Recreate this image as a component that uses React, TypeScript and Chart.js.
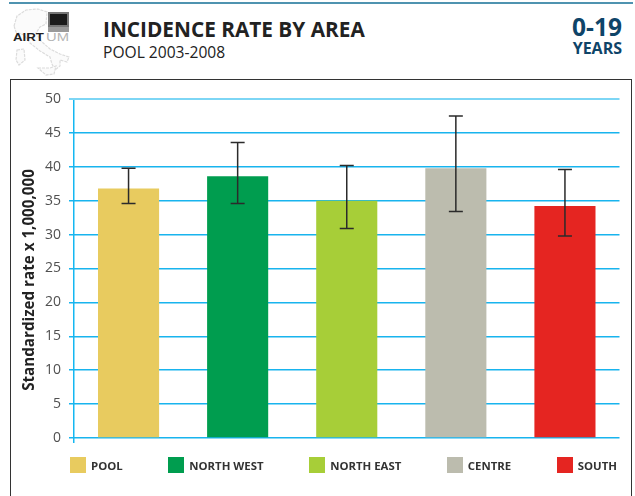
import React, { useEffect, useRef } from "react";
import { Chart, registerables } from "chart.js";

Chart.register(...registerables);

const categories = ["POOL", "NORTH WEST", "NORTH EAST", "CENTRE", "SOUTH"];
const rates = [36.8, 38.6, 35.0, 39.8, 34.2];
const lower = [34.6, 34.6, 30.9, 33.4, 29.8];
const upper = [39.8, 43.6, 40.2, 47.5, 39.6];
const colors = ["#e8cb5f", "#009d4f", "#a7ce38", "#bcbcae", "#e52521"];
const yAxisTitle = "Standardized rate x 1,000,000";
const FONT = '"Open Sans", "Noto Sans", sans-serif';

const errorBars = {
  id: "errorBars",
  afterDatasetsDraw(chart: any) {
    const { ctx, scales } = chart;
    const meta = chart.getDatasetMeta(0);
    ctx.save();
    ctx.strokeStyle = "#2b2b2b";
    ctx.lineWidth = 1.5;
    meta.data.forEach((bar: any, i: number) => {
      const x = bar.x;
      const yl = scales.y.getPixelForValue(lower[i]);
      const yu = scales.y.getPixelForValue(upper[i]);
      ctx.beginPath();
      ctx.moveTo(x, yl);
      ctx.lineTo(x, yu);
      ctx.moveTo(x - 7, yl);
      ctx.lineTo(x + 7, yl);
      ctx.moveTo(x - 7, yu);
      ctx.lineTo(x + 7, yu);
      ctx.stroke();
    });
    ctx.restore();
  },
};

const axisTitle = {
  id: "axisTitle",
  afterDraw(chart: any) {
    const { ctx } = chart;
    ctx.save();
    ctx.translate(30, 280);
    ctx.rotate(-Math.PI / 2);
    ctx.textAlign = "center";
    ctx.textBaseline = "middle";
    ctx.fillStyle = "#222222";
    ctx.font = `bold 15.2px ${FONT}`;
    ctx.fillText(yAxisTitle, 0, 0);
    ctx.restore();
  },
};

function Logo() {
  return (
    <svg width="80" height="79" style={{ position: "absolute", left: 0, top: 0 }}>
      <g fill="#fbfbfb" stroke="#dcdcdc" strokeWidth="1.2" strokeDasharray="3 1">
        <path d="M14 26 L17 16 L26 10 L38 9 L47 12 L46 24 L40 27 L36 33 L41 41 L50 49 L60 54 L69 57 L67 62 L60 60 L60 66 L55 70 L52 64 L50 57 L40 51 L30 43 L24 35 L16 32 Z" />
        <path d="M17 50 L24 49 L25 60 L19 65 L16 60 Z" />
        <path d="M38 68 L50 68 L56 66 L54 74 L46 75 Z" />
      </g>
      <rect x="49" y="13" width="19" height="13" fill="#1c1c1c" stroke="#777" strokeWidth="2" />
      <rect x="48" y="27" width="21" height="5" fill="#9a9a9a" />
      <text x="13" y="41" fontFamily="Liberation Sans" fontWeight="700" fontSize="10" textLength="31" lengthAdjust="spacingAndGlyphs" fill="#222">AIRT</text>
      <text x="46" y="41" fontFamily="Liberation Sans" fontSize="10.5" textLength="23" lengthAdjust="spacingAndGlyphs" fill="#b5b5b5">UM</text>
    </svg>
  );
}

export default function App() {
  const ref = useRef<HTMLCanvasElement>(null);
  useEffect(() => {
    const chart = new Chart(ref.current!, {
      type: "bar",
      data: {
        labels: categories,
        datasets: [
          {
            data: rates,
            backgroundColor: colors,
            categoryPercentage: 1,
            barPercentage: 0.56,
          },
        ],
      },
      plugins: [errorBars, axisTitle],
      options: {
        responsive: false,
        animation: false,
        devicePixelRatio: 1,
        layout: { padding: { left: 21, right: 15.5, top: 99, bottom: 53 } },
        plugins: {
          tooltip: { enabled: false },
          legend: { display: false },
        },
        scales: {
          x: {
            border: { display: false },
            grid: {
              tickLength: 5,
              lineWidth: 1.5,
              color: (c: any) => (c.index === 0 || c.index === categories.length ? "#14b7f2" : "rgba(0,0,0,0)"),
              tickColor: (c: any) => (c.index === 0 || c.index === categories.length ? "#14b7f2" : "rgba(0,0,0,0)"),
            },
            ticks: { display: false },
          },
          y: {
            min: 0,
            max: 50,
            border: { display: false },
            afterFit: (s: any) => {
              s.width = 53;
            },
            grid: {
              color: (c: any) => (c.index === 10 ? "#7dd6f5" : "#18b4ee"),
              tickColor: (c: any) => (c.index === 10 ? "#7dd6f5" : "#18b4ee"),
              lineWidth: (c: any) => (c.index === 10 ? 2 : 1.5),
              tickLength: 5,
            },
            ticks: {
              stepSize: 5,
              color: "#505050",
              padding: 8,
              font: { family: FONT, size: 14 },
            },
          },
        },
      },
    } as any);
    return () => chart.destroy();
  }, []);

  return (
    <div style={{ position: "fixed", left: 0, top: 0, width: 635, height: 496, background: "#fff", overflow: "hidden" }}>
      <div style={{ position: "absolute", left: 9, top: 2, width: 624, height: 2, background: "#4f93b0" }} />
      <Logo />
      <div style={{ position: "absolute", left: 103, top: 15, fontFamily: FONT, fontWeight: 700, fontSize: 20.8, color: "#222", lineHeight: "28px", whiteSpace: "nowrap" }}>
        INCIDENCE RATE BY AREA
      </div>
      <div style={{ position: "absolute", left: 103, top: 42, fontFamily: FONT, fontSize: 15.6, color: "#222", lineHeight: "20px", whiteSpace: "nowrap" }}>
        POOL 2003-2008
      </div>
      <div style={{ position: "absolute", right: 13, top: 12, fontFamily: FONT, fontWeight: 700, fontSize: 24.5, color: "#0e4468", lineHeight: "30px", whiteSpace: "nowrap" }}>
        0-19
      </div>
      <div style={{ position: "absolute", right: 13, top: 38, fontFamily: FONT, fontWeight: 700, fontSize: 16, color: "#0e4468", lineHeight: "20px", whiteSpace: "nowrap" }}>
        YEARS
      </div>
      <div style={{ position: "absolute", left: 10, top: 79, width: 622, height: 430, border: "1.5px solid #333", boxSizing: "border-box" }} />
      <canvas ref={ref} width={635} height={496} style={{ position: "absolute", left: 0, top: 0 }} />
      <div style={{ position: "absolute", left: 70, top: 457, display: "flex", gap: 45.5, whiteSpace: "nowrap" }}>
        {categories.map((c, i) => (
          <div key={c} style={{ display: "flex", alignItems: "center", gap: 5, height: 16 }}>
            <span style={{ width: 16, height: 16, background: colors[i], display: "block" }} />
            <span style={{ fontFamily: FONT, fontWeight: 700, fontSize: 11.4, color: "#333" }}>{c}</span>
          </div>
        ))}
      </div>
    </div>
  );
}
